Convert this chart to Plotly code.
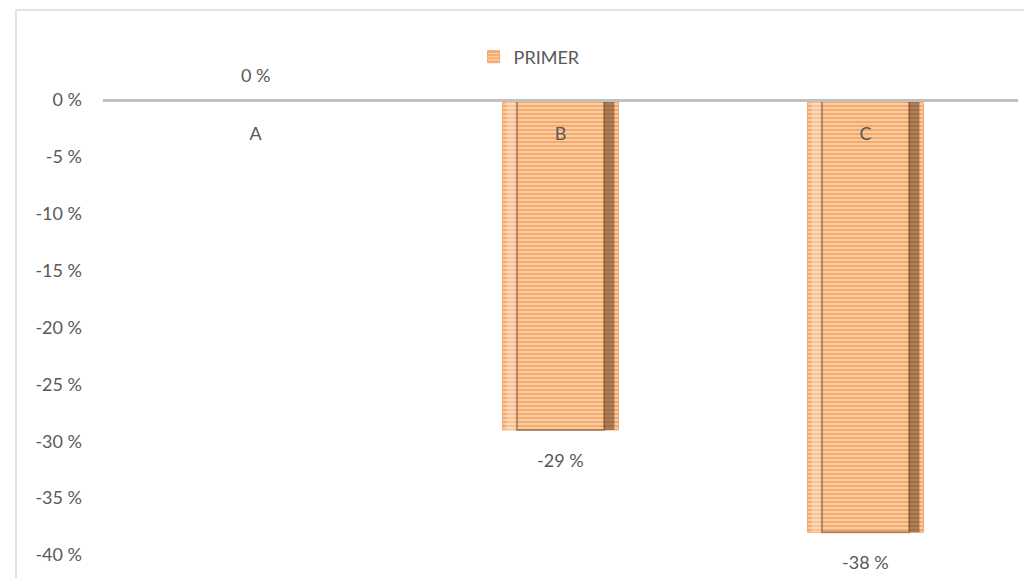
import plotly.graph_objects as go

categories = ["A", "B", "C"]
values = [0, -29, -38]
value_labels = ["0 %", "-29 %", "-38 %"]
series_name = "PRIMER"
y_tickvals = [0, -5, -10, -15, -20, -25, -30, -35, -40]
y_ticktext = ["0 %", "-5 %", "-10 %", "-15 %", "-20 %", "-25 %", "-30 %", "-35 %", "-40 %"]

FONT = "Lato"
TXT = "#595959"
FS = 18

fig = go.Figure()
fig.add_trace(go.Bar(
    x=categories, y=values, name=series_name, width=0.38,
    marker=dict(
        color="#FBD0A8",
        line=dict(color="#F0A872", width=1),
        pattern=dict(shape="-", fgcolor="#EE8232", bgcolor="#FBD0A8", size=4, solidity=0.55),
    ),
))
# bevel shading: dark right side, light left side, inner frame
fig.add_trace(go.Bar(
    x=categories, y=values, width=0.034, offset=0.143, showlegend=False, hoverinfo="skip",
    marker=dict(color="rgba(70,35,10,0.45)", line=dict(width=0)),
))
fig.add_trace(go.Bar(
    x=categories, y=values, width=0.034, offset=-0.177, showlegend=False, hoverinfo="skip",
    marker=dict(color="rgba(255,240,225,0.35)", line=dict(width=0)),
))
fig.add_trace(go.Bar(
    x=categories, y=values, width=0.286, offset=-0.143, showlegend=False, hoverinfo="skip",
    marker=dict(color="rgba(0,0,0,0)", line=dict(color="rgba(100,55,20,0.45)", width=2)),
))

for c, v, t in zip(categories, values, value_labels):
    fig.add_annotation(x=c, y=v, text=t, showarrow=False,
                       yshift=25 if v >= 0 else -30,
                       font=dict(family=FONT, size=FS, color=TXT))

fig.add_shape(type="rect", xref="paper", yref="paper",
              x0=-0.0951, x1=1.05, y0=-0.2, y1=1.198,
              line=dict(color="#D9D9D9", width=1.5), fillcolor="rgba(0,0,0,0)", layer="below")

fig.update_layout(
    width=1024, height=570,
    margin=dict(l=95, r=14, t=92, b=23),
    paper_bgcolor="white", plot_bgcolor="white",
    barmode="overlay",
    font=dict(family=FONT, size=FS, color=TXT),
    showlegend=True,
    legend=dict(orientation="h", x=0.405, y=1.0945, xanchor="left", yanchor="middle",
                font=dict(family=FONT, size=FS, color=TXT), itemwidth=30),
    xaxis=dict(
        anchor="free", position=1, side="bottom",
        showline=True, linecolor="#C0C0C0", linewidth=3,
        ticks="", showgrid=False, zeroline=False,
        ticklabelstandoff=16,
        tickfont=dict(family=FONT, size=FS, color=TXT),
    ),
    yaxis=dict(
        range=[-40, 0], tickvals=y_tickvals, ticktext=y_ticktext,
        showgrid=False, zeroline=False, showline=False, ticks="",
        ticklabelstandoff=20,
        tickfont=dict(family=FONT, size=FS, color=TXT),
    ),
)

fig.write_html("out.html")
